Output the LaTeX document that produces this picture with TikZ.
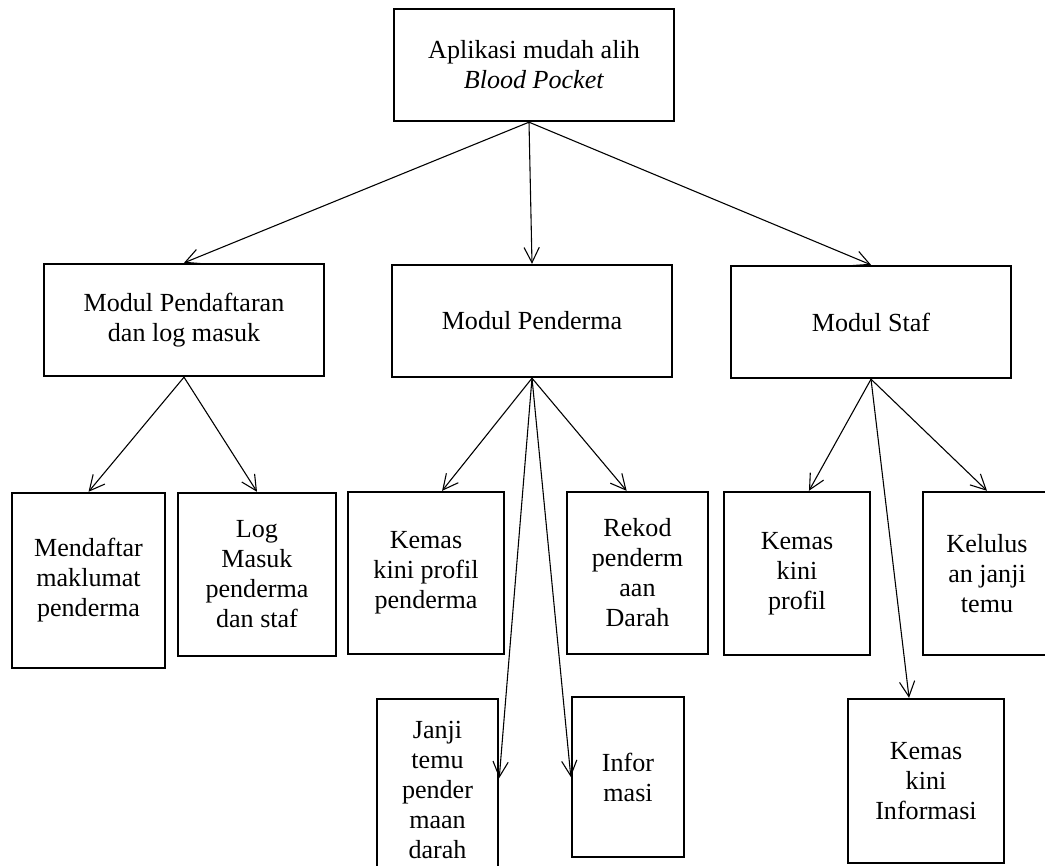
\documentclass[tikz,border=0pt]{standalone}
\usepackage{fontspec}
\setmainfont{Liberation Serif}
\usetikzlibrary{arrows.meta}

\begin{document}
\begin{tikzpicture}[x=0.46pt,y=-0.46pt,font=\fontsize{12}{13.8}\selectfont,
	>={Straight Barb[length=7pt,width=7pt]},
	kotak/.style 2 args={draw,line width=1.1pt,align=center,inner sep=0pt,minimum width=#1,minimum height=#2}]
	\useasboundingbox (0,0) rectangle (1045,865);
	
	\node[kotak={128.8pt}{51.5pt}] (aplikasi) at (534,65) {Aplikasi mudah alih\\\textit{Blood Pocket}};
	\node[kotak={128.8pt}{51.5pt}] (pendaftaran) at (184,320) {Modul Pendaftaran\\dan log masuk};
	\node[kotak={128.8pt}{51.5pt}] (penderma) at (532,321) {Modul Penderma};
	\node[kotak={128.8pt}{51.5pt}] (staf) at (871,322) {Modul Staf};
	
	\node[kotak={70.4pt}{80.5pt}] (daftar) at (88.5,580.5) {Mendaftar\\maklumat\\penderma};
	\node[kotak={72.7pt}{75pt}] (logmasuk) at (257,574.5) {Log\\Masuk\\penderma\\dan staf};
	\node[kotak={71.8pt}{74.5pt}] (profilpenderma) at (426,573) {Kemas\\kini profil\\penderma};
	\node[kotak={64.9pt}{74.5pt}] (rekod) at (637.5,573) {Rekod\\penderm\\aan\\Darah};
	\node[kotak={67.2pt}{75pt}] (profilstaf) at (797,573.5) {Kemas\\kini\\profil};
	\node[kotak={58.9pt}{75pt}] (kelulusan) at (987,573.5) {Kelulus\\an janji\\temu};
	
	\node[kotak={55.7pt}{83.7pt}] (janji) at (437.5,790) {Janji\\temu\\pender\\maan\\darah};
	\node[kotak={51.5pt}{73.6pt}] (informasi) at (628,777) {Infor\\masi};
	\node[kotak={71.8pt}{75.4pt}] (kemasinfo) at (926,781) {Kemas\\kini\\Informasi};
	
	\path[->,line width=0.5pt]
	([xshift=-2.3pt]aplikasi.south) edge (pendaftaran.north)
		edge (penderma.north)
		edge (staf.north)
	(pendaftaran.south) edge (daftar.north)
		edge (logmasuk.north)
	(penderma.south) edge ([xshift=7.4pt]profilpenderma.north)
		edge ([xshift=-5pt]rekod.north)
		edge ([yshift=5.5pt]janji.east)
		edge (informasi.west)
	(staf.south) edge ([xshift=5.5pt]profilstaf.north)
		edge (kelulusan.north)
		edge ([xshift=-7.8pt]kemasinfo.north);
\end{tikzpicture}
\end{document}
